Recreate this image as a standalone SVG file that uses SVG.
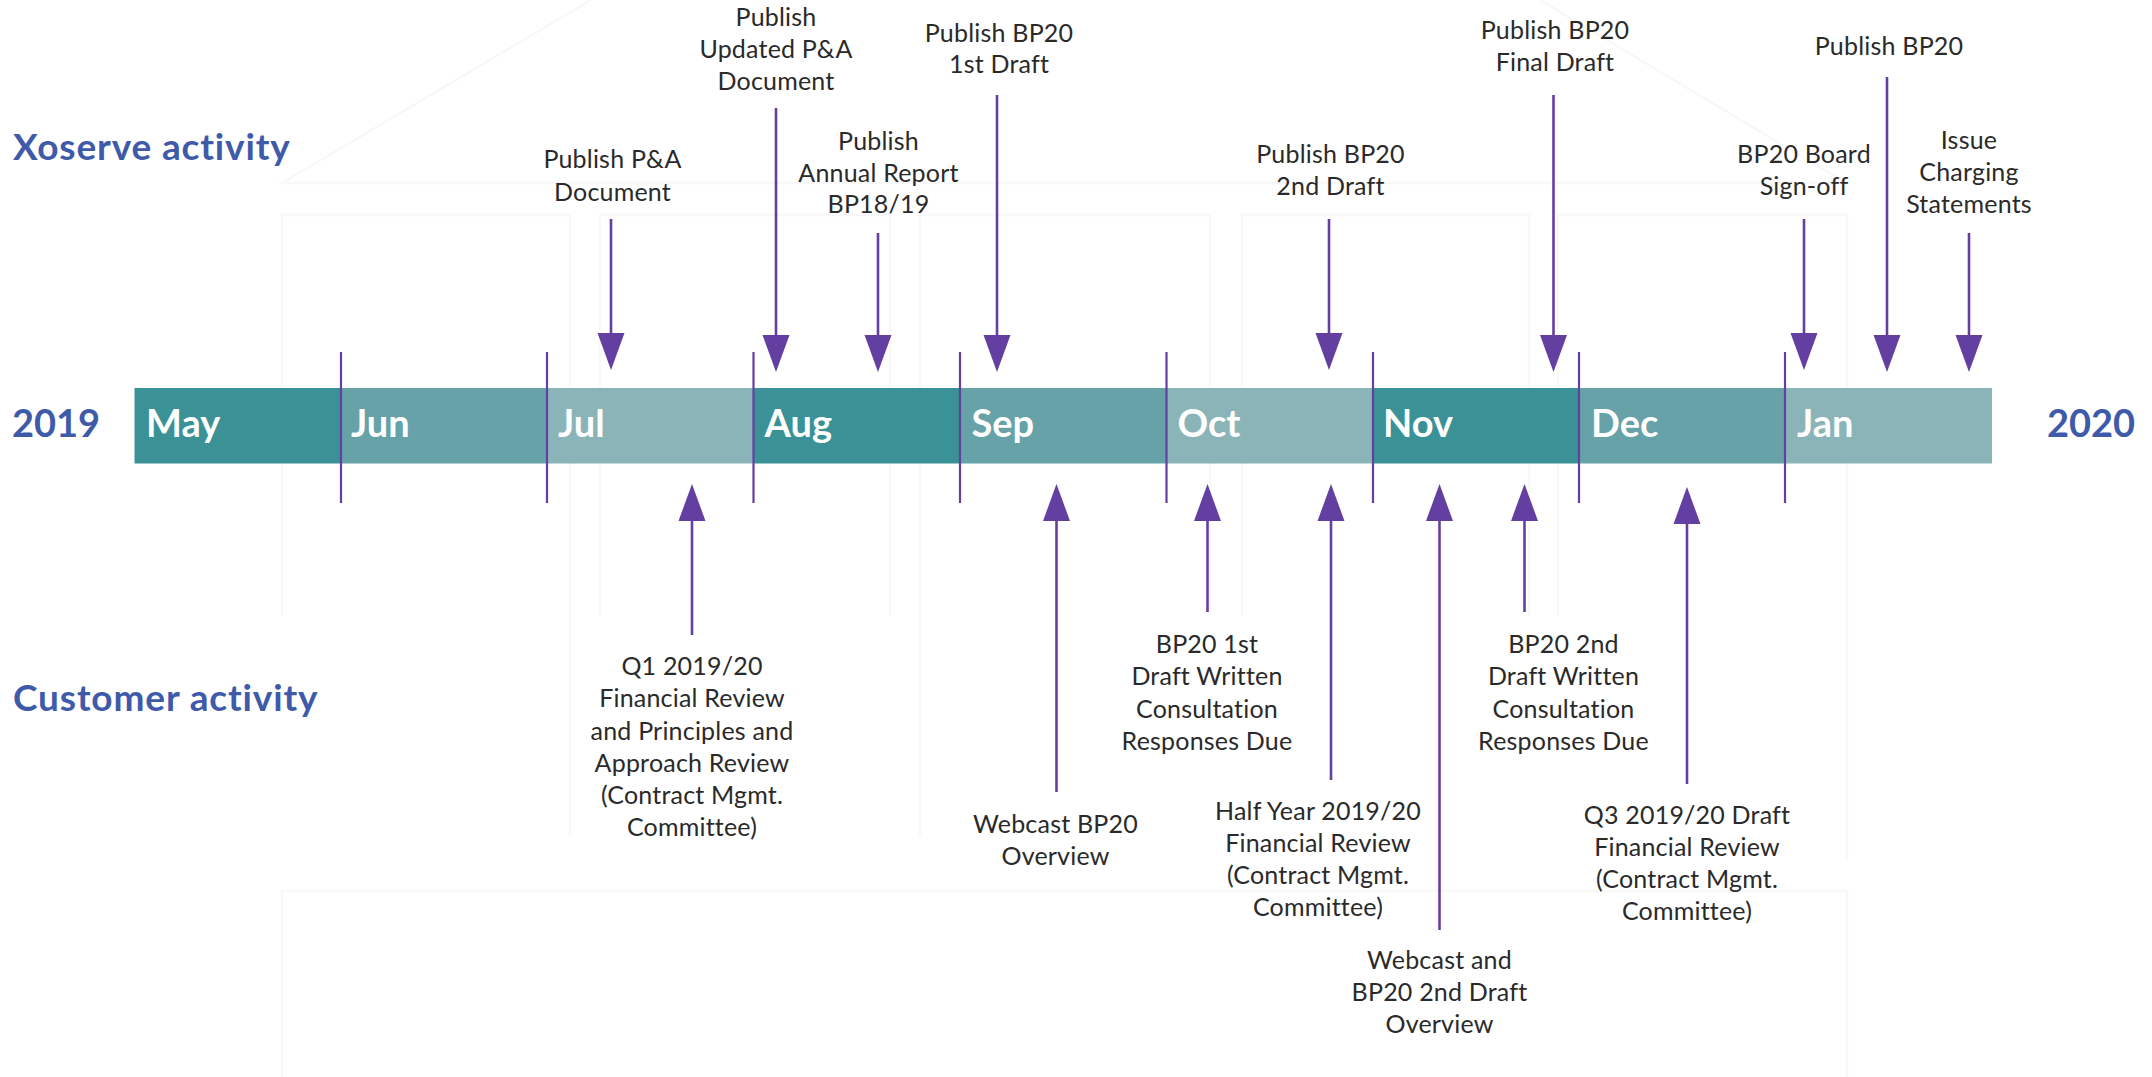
<svg xmlns="http://www.w3.org/2000/svg" width="2152" height="1077" viewBox="0 0 2152 1077">
<style>
text{font-family:"Lato","Liberation Sans",sans-serif}
.l{font-size:25px;font-weight:400;fill:#2a2a2a;text-anchor:middle;letter-spacing:.2px}
.m{font-size:38px;font-weight:700;fill:#ffffff}
.h{font-size:37px;font-weight:700;fill:#3f5aa9;letter-spacing:.85px}
.y{font-size:38px;font-weight:700;fill:#3f5aa9}
.c{stroke:#643fa2;stroke-width:2.6;fill:none}
.t{stroke:#643fa2;stroke-width:2.2;fill:none}
.w{fill:none;stroke:#f8f8f8;stroke-width:2.5}
.d{fill:#3a9196}.n{fill:#66a2a7}.p{fill:#8bb4b8}
</style>
<defs>
<marker id="a" markerUnits="userSpaceOnUse" markerWidth="38" markerHeight="28" refX="0" refY="14" orient="auto"><path d="M0,0.5L37,14L0,27.5Z" fill="#643fa2"/></marker>
</defs>
<rect width="2152" height="1077" fill="#ffffff"/>
<g id="watermark">
<path class="w" d="M591,0L282,183H1846L1540,0"/>
<path class="w" d="M282,616V215H570V835"/>
<path class="w" d="M600,616V215H890V616"/>
<path class="w" d="M920,835V215H1210V616"/>
<path class="w" d="M1242,616V215H1529V616"/>
<path class="w" d="M1558,616V215H1847V859"/>
<path class="w" d="M282,1077V891H1847V1077"/>
</g>
<g id="bar">
<g id="may"><rect class="d" x="134.5" y="388" width="206.5" height="75.5"/><text class="m" x="146" y="437">May</text></g>
<g id="jun"><rect class="n" x="341" y="388" width="206" height="75.5"/><text class="m" x="351" y="437">Jun</text></g>
<g id="jul"><rect class="p" x="547" y="388" width="206.5" height="75.5"/><text class="m" x="558" y="437">Jul</text></g>
<g id="aug"><rect class="d" x="753.5" y="388" width="206.5" height="75.5"/><text class="m" x="764.5" y="437">Aug</text></g>
<g id="sep"><rect class="n" x="960" y="388" width="206.5" height="75.5"/><text class="m" x="971.5" y="437">Sep</text></g>
<g id="oct"><rect class="p" x="1166.5" y="388" width="206.5" height="75.5"/><text class="m" x="1177.5" y="437">Oct</text></g>
<g id="nov"><rect class="d" x="1373" y="388" width="206" height="75.5"/><text class="m" x="1383" y="437">Nov</text></g>
<g id="dec"><rect class="n" x="1579" y="388" width="206" height="75.5"/><text class="m" x="1591" y="437">Dec</text></g>
<g id="jan"><rect class="p" x="1785" y="388" width="207" height="75.5"/><text class="m" x="1797" y="437">Jan</text></g>
</g>
<g id="connectors">
<path class="t" d="M341,352V503M547,352V503M753.5,352V503M960,352V503M1166.5,352V503M1373,352V503M1579,352V503M1785,352V503"/>
<line class="c" x1="611" y1="219" x2="611" y2="333" marker-end="url(#a)"/>
<line class="c" x1="776" y1="108" x2="776" y2="335" marker-end="url(#a)"/>
<line class="c" x1="878" y1="233" x2="878" y2="335" marker-end="url(#a)"/>
<line class="c" x1="997" y1="95" x2="997" y2="335" marker-end="url(#a)"/>
<line class="c" x1="1329" y1="219" x2="1329" y2="333" marker-end="url(#a)"/>
<line class="c" x1="1553.5" y1="95" x2="1553.5" y2="335" marker-end="url(#a)"/>
<line class="c" x1="1804" y1="219" x2="1804" y2="333" marker-end="url(#a)"/>
<line class="c" x1="1887" y1="77" x2="1887" y2="335" marker-end="url(#a)"/>
<line class="c" x1="1969" y1="233" x2="1969" y2="335" marker-end="url(#a)"/>
<line class="c" x1="692" y1="635" x2="692" y2="521" marker-end="url(#a)"/>
<line class="c" x1="1056.5" y1="792" x2="1056.5" y2="521" marker-end="url(#a)"/>
<line class="c" x1="1207.5" y1="612" x2="1207.5" y2="521" marker-end="url(#a)"/>
<line class="c" x1="1331" y1="780" x2="1331" y2="521" marker-end="url(#a)"/>
<line class="c" x1="1439.5" y1="930" x2="1439.5" y2="521" marker-end="url(#a)"/>
<line class="c" x1="1524.5" y1="612" x2="1524.5" y2="521" marker-end="url(#a)"/>
<line class="c" x1="1687" y1="784" x2="1687" y2="524" marker-end="url(#a)"/>
</g>
<g id="side-labels">
<text id="lbl-xoserve" class="h" x="13" y="160">Xoserve activity</text>
<text id="lbl-customer" class="h" x="13" y="711">Customer activity</text>
<text id="lbl-2019" class="y" x="12" y="436.5">2019</text>
<text id="lbl-2020" class="y" x="2047" y="436.5">2020</text>
</g>
<g id="n1"><text class="l" x="612.5" y="168">Publish P&amp;A</text><text class="l" x="612.5" y="201">Document</text></g>
<g id="n2"><text class="l" x="776" y="26">Publish</text><text class="l" x="776" y="57.5">Updated P&amp;A</text><text class="l" x="776" y="90">Document</text></g>
<g id="n3"><text class="l" x="878.5" y="150">Publish</text><text class="l" x="878.5" y="182">Annual Report</text><text class="l" x="878.5" y="213">BP18/19</text></g>
<g id="n4"><text class="l" x="999" y="41.5">Publish BP20</text><text class="l" x="999" y="73">1st Draft</text></g>
<g id="n5"><text class="l" x="1330.5" y="163">Publish BP20</text><text class="l" x="1330.5" y="195">2nd Draft</text></g>
<g id="n6"><text class="l" x="1555" y="38.5">Publish BP20</text><text class="l" x="1555" y="70.5">Final Draft</text></g>
<g id="n7"><text class="l" x="1804" y="163">BP20 Board</text><text class="l" x="1804" y="195">Sign-off</text></g>
<g id="n8"><text class="l" x="1889" y="54.5">Publish BP20</text></g>
<g id="n9"><text class="l" x="1969" y="149">Issue</text><text class="l" x="1969" y="181">Charging</text><text class="l" x="1969" y="212.5">Statements</text></g>
<g id="n10"><text class="l" x="692" y="675">Q1 2019/20</text><text class="l" x="692" y="707">Financial Review</text><text class="l" x="692" y="739.5">and Principles and</text><text class="l" x="692" y="771.5">Approach Review</text><text class="l" x="692" y="804">(Contract Mgmt.</text><text class="l" x="692" y="835.5">Committee)</text></g>
<g id="n11"><text class="l" x="1055.5" y="832.5">Webcast BP20</text><text class="l" x="1055.5" y="865">Overview</text></g>
<g id="n12"><text class="l" x="1207" y="652.5">BP20 1st</text><text class="l" x="1207" y="685">Draft Written</text><text class="l" x="1207" y="717.5">Consultation</text><text class="l" x="1207" y="749.5">Responses Due</text></g>
<g id="n13"><text class="l" x="1563.5" y="652.5">BP20 2nd</text><text class="l" x="1563.5" y="685">Draft Written</text><text class="l" x="1563.5" y="717.5">Consultation</text><text class="l" x="1563.5" y="749.5">Responses Due</text></g>
<g id="n14"><text class="l" x="1318" y="819.5">Half Year 2019/20</text><text class="l" x="1318" y="852">Financial Review</text><text class="l" x="1318" y="884">(Contract Mgmt.</text><text class="l" x="1318" y="916">Committee)</text></g>
<g id="n15"><text class="l" x="1687" y="823.5">Q3 2019/20 Draft</text><text class="l" x="1687" y="856">Financial Review</text><text class="l" x="1687" y="888">(Contract Mgmt.</text><text class="l" x="1687" y="920">Committee)</text></g>
<g id="n16"><text class="l" x="1439.5" y="969">Webcast and</text><text class="l" x="1439.5" y="1001">BP20 2nd Draft</text><text class="l" x="1439.5" y="1033">Overview</text></g>
</svg>
